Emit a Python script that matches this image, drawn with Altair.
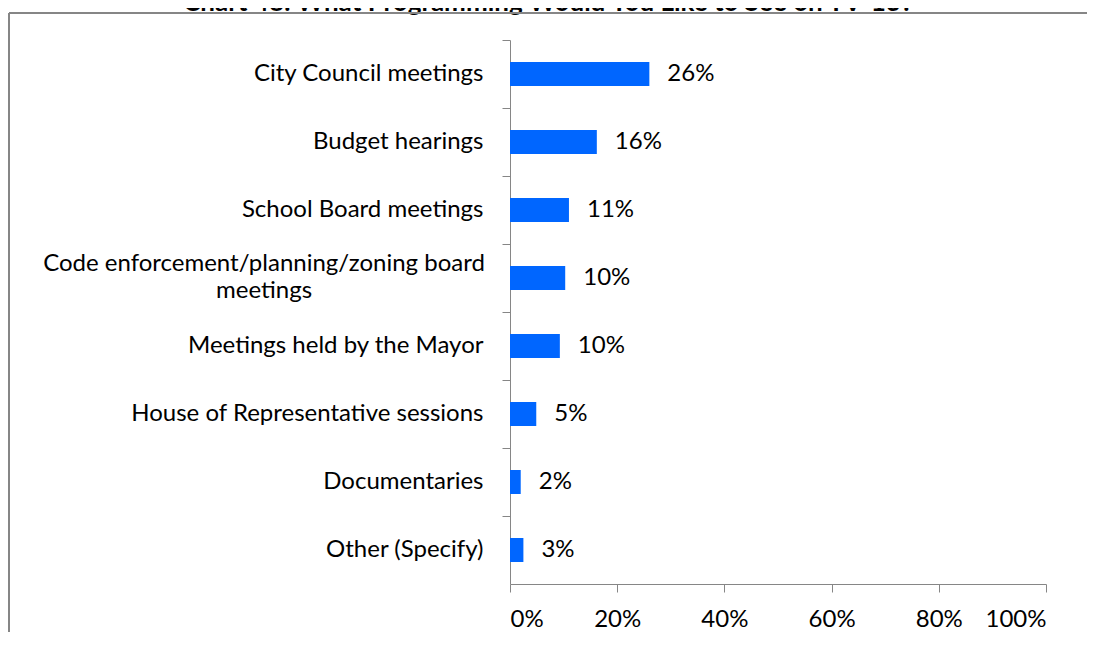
import altair as alt
import pandas as pd

categories = [
    "City Council meetings",
    "Budget hearings",
    "School Board meetings",
    "Code enforcement/planning/zoning board|meetings",
    "Meetings held by the Mayor",
    "House of Representative sessions",
    "Documentaries",
    "Other (Specify)",
]
values = [0.26, 0.162, 0.11, 0.103, 0.093, 0.049, 0.02, 0.025]
value_labels = ["26%", "16%", "11%", "10%", "10%", "5%", "2%", "3%"]
x_ticks = [0, 0.2, 0.4, 0.6, 0.8, 1.0]
title_text = "Chart 48: What Programming Would You Like to See on TV-13?"
wrapped_category = "Code enforcement/planning/zoning board|meetings"

df = pd.DataFrame({"category": categories, "value": values, "label": value_labels})

FONT = "Lato"
FS = 24
GRAY = "#868686"
W, H = 536, 544

y_enc = alt.Y(
    "category:N",
    sort=categories,
    scale=alt.Scale(paddingInner=0, paddingOuter=0),
    axis=alt.Axis(
        title=None,
        bandPosition=0,
        tickSize=8,
        tickColor=GRAY,
        domainColor=GRAY,
        labelColor="black",
        labelFont=FONT,
        labelFontSize=FS,
        labelPadding=19,
        labelLimit=0,
        labelExpr="indexof(datum.label, '|') >= 0 ? '' : datum.label",
    ),
)

x_enc = alt.X(
    "value:Q",
    scale=alt.Scale(domain=[0, 1]),
    axis=alt.Axis(
        title=None,
        values=x_ticks,
        format=".0%",
        grid=False,
        tickSize=8,
        tickColor=GRAY,
        domainColor=GRAY,
        labelColor="black",
        labelFont=FONT,
        labelFontSize=FS,
        labelPadding=15,
    ),
)

bars = alt.Chart(df).mark_bar(size=24, color="#0066ff").encode(x=x_enc, y=y_enc)

texts = alt.Chart(df).mark_text(
    align="left", baseline="middle", dx=18, font=FONT, fontSize=FS, color="black"
).encode(x="value:Q", y=alt.Y("category:N", sort=categories), text="label:N")

wrapped = alt.Chart(df).transform_filter(
    alt.datum.category == wrapped_category
).mark_text(
    align="center", baseline="middle", font=FONT, fontSize=FS, color="black",
    lineBreak="|", lineHeight=27, dy=-14,
).encode(x=alt.value(-246), y=alt.Y("category:N", sort=categories), text="category:N")

title_df = pd.DataFrame({"t": [title_text]})
title = alt.Chart(title_df).mark_text(
    align="center", baseline="alphabetic", font=FONT, fontSize=26, fontWeight="bold", color="black"
).encode(x=alt.value(38), y=alt.value(-29), text="t:N")

border_top = alt.Chart(title_df).mark_rule(color=GRAY, strokeWidth=2).encode(
    x=alt.value(-501), x2=alt.value(600), y=alt.value(-27)
)
border_left = alt.Chart(title_df).mark_rule(color=GRAY, strokeWidth=2).encode(
    x=alt.value(-501), y=alt.value(-27), y2=alt.value(700)
)

chart = alt.layer(title, border_top, border_left, bars, texts, wrapped).properties(
    width=W,
    height=H,
    autosize=alt.AutoSizeParams(type="none"),
    padding={"left": 502, "top": 32, "right": 41, "bottom": 48},
).configure_view(stroke=None)

chart.save("out.html", embed_options={"renderer": "svg", "actions": False})
